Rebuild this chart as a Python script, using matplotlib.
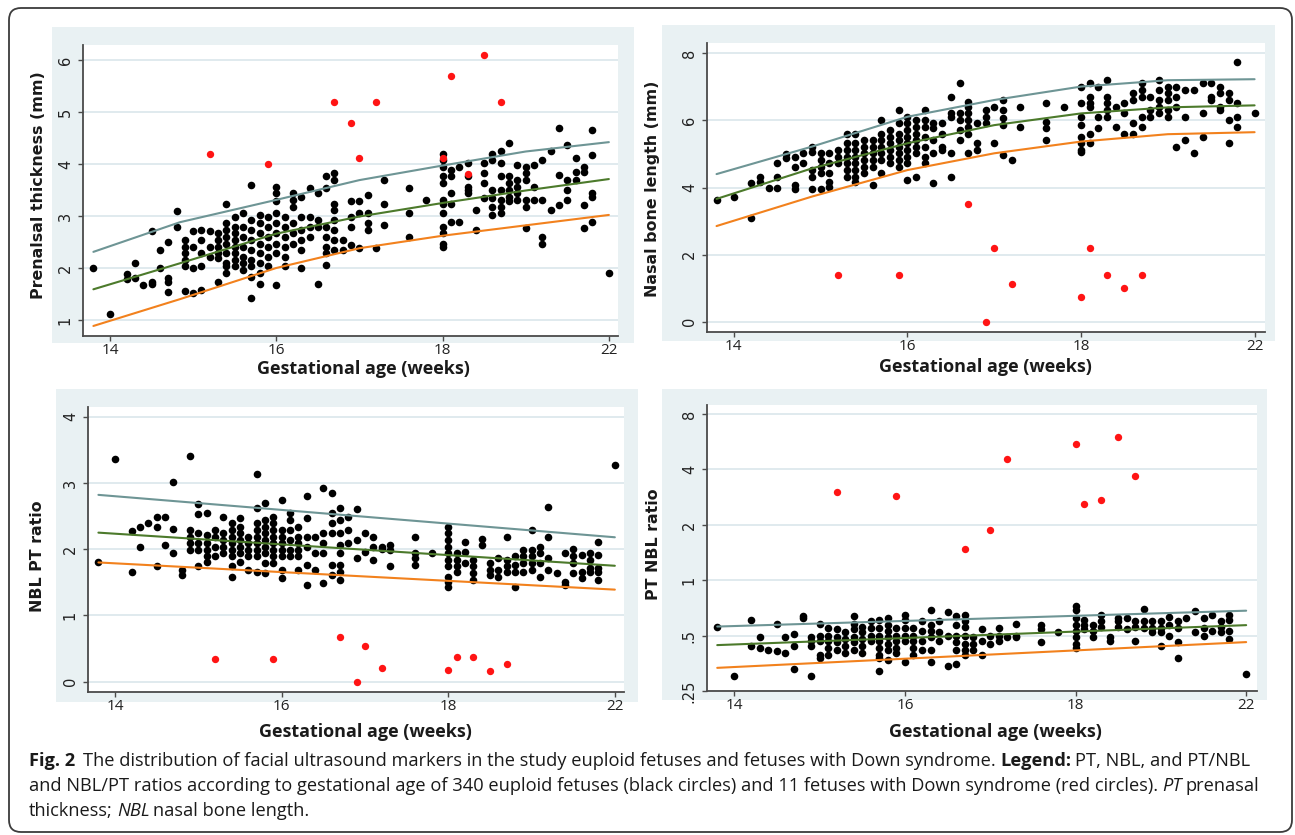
import matplotlib
matplotlib.use("Agg")
import matplotlib.pyplot as plt
from matplotlib import font_manager as fm
from matplotlib.patches import FancyBboxPatch, Rectangle
from matplotlib.transforms import IdentityTransform

# ---------------- DATA ----------------
GA_TICKS = [14, 16, 18, 20]
GA_TICK_LABELS = ["14", "16", "18", "22"]

# Panel 1: prenasal thickness (mm)
pt_ga = [13.8, 14.0, 14.2, 14.3, 14.4, 14.5, 14.6, 14.7, 14.8, 14.9, 15.0, 15.1, 15.2, 15.3,
         15.4, 15.5, 15.6, 15.7, 15.8, 15.9, 16.0, 16.1, 16.2, 16.3, 16.4, 16.5, 16.6, 16.7,
         16.8, 16.9, 17.0, 17.1, 17.2, 17.3, 17.6, 17.8, 18.0, 18.1, 18.2, 18.3, 18.4, 18.5,
         18.6, 18.7, 18.8, 18.9, 19.0, 19.1, 19.2, 19.3, 19.4, 19.5, 19.6, 19.7, 19.8, 20.0]
pt_vals = [[2.0], [1.11], [1.88, 1.78], [2.1, 1.8], [1.67], [2.71, 1.74, 1.70], [2.35, 2.0],
           [2.5, 1.8, 1.74, 1.53], [3.1, 2.78], [2.54, 2.41, 2.28, 2.15, 2.03, 1.55],
           [2.71, 2.41, 2.0, 1.51], [2.73, 2.54, 2.28, 2.03, 1.58], [2.71, 2.41, 2.22],
           [2.67, 2.54, 2.41, 2.28, 2.19, 1.74],
           [3.24, 2.86, 2.73, 2.6, 2.47, 2.28, 2.09, 2.03, 1.9],
           [2.99, 2.79, 2.67, 2.54, 2.41, 2.28, 2.15, 2.03],
           [3.05, 2.79, 2.6, 2.41, 2.22, 2.09, 1.96],
           [3.6, 2.92, 2.73, 2.54, 2.35, 2.15, 2.03, 1.83, 1.42],
           [3.02, 2.86, 2.67, 2.47, 2.28, 2.09, 1.9, 1.7],
           [2.99, 2.79, 2.6, 2.41, 2.22, 2.03],
           [3.56, 3.44, 3.28, 3.05, 2.86, 2.67, 2.47, 2.28, 1.67],
           [2.99, 2.79, 2.6, 2.41, 2.22, 2.03],
           [3.44, 3.31, 3.18, 2.86, 2.67, 2.47],
           [3.37, 2.99, 2.73, 2.54, 2.35, 2.0],
           [3.53, 2.99, 2.79, 2.6], [3.44, 2.92, 2.79, 1.7],
           [3.76, 3.53, 2.79, 2.6, 2.41, 2.28, 2.06],
           [3.82, 3.69, 3.24, 3.12, 2.92, 2.73, 2.54, 2.35],
           [2.54, 2.35], [3.28, 2.99, 2.79, 2.44], [3.28, 3.05, 2.38], [3.4, 3.05, 2.86, 2.73],
           [2.38], [3.69, 3.24, 2.83], [3.53, 3.05, 2.6], [3.31],
           [4.2, 4.08, 3.95, 3.76, 3.63, 3.31, 3.24, 3.05, 2.79, 2.67, 2.47, 2.41],
           [3.88, 3.76, 3.44, 3.24, 2.89], [3.95, 2.89], [4.01, 3.76, 3.56, 3.5, 3.44],
           [3.12, 2.73], [4.01, 3.82, 3.63, 3.34], [4.2, 4.08, 3.5, 3.34, 3.18, 3.02],
           [4.24, 4.01, 3.76, 3.5, 3.31, 3.18, 3.05], [4.4, 3.76, 3.63, 3.5, 3.37, 3.28],
           [3.98, 3.69, 3.56, 3.44, 3.31], [3.95, 3.82, 3.69, 3.31, 3.18, 2.76],
           [3.98, 3.56, 3.31], [4.08, 3.31, 2.6, 2.47], [4.24, 3.12], [4.69, 3.79, 3.21],
           [4.37, 3.69, 3.5, 3.31], [4.11, 3.85, 3.69], [3.95, 3.85, 3.21, 2.76],
           [4.65, 4.17, 3.44, 3.37, 2.89], [1.9]]

ds_ga = [15.2, 15.9, 16.7, 16.9, 17.0, 17.2, 18.0, 18.1, 18.3, 18.5, 18.7]
ds_pt = [4.2, 3.99, 5.19, 4.78, 4.11, 5.19, 4.11, 5.69, 3.81, 6.1, 5.19]

pt_line_ga = [13.8, 14.84, 16.0, 17.0, 18.0, 19.0, 20.0]
pt_upper = [2.31, 2.88, 3.31, 3.69, 3.97, 4.24, 4.42]
pt_mid = [1.59, 2.09, 2.66, 2.99, 3.25, 3.49, 3.71]
pt_lower = [0.885, 1.40, 2.0, 2.38, 2.62, 2.82, 3.02]

# Panel 2: nasal bone length (mm)
nbl_ga = [13.8, 14.0, 14.2, 14.3, 14.4, 14.5, 14.6, 14.7, 14.8, 14.9, 15.0, 15.1, 15.2, 15.3,
          15.4, 15.5, 15.6, 15.7, 15.8, 15.9, 16.0, 16.1, 16.2, 16.3, 16.4, 16.5, 16.6, 16.7,
          16.8, 16.9, 17.0, 17.1, 17.2, 17.3, 17.6, 17.8, 18.0, 18.1, 18.2, 18.3, 18.4, 18.5,
          18.6, 18.7, 18.8, 18.9, 19.0, 19.1, 19.2, 19.3, 19.4, 19.5, 19.6, 19.7, 19.8, 20.0]
nbl_vals = [[3.63], [3.71], [4.12, 3.08], [4.32, 4.17], [3.99], [4.72, 4.32, 3.99], [5.0, 4.87],
            [4.92, 4.62, 4.07, 3.97], [5.02, 4.72], [5.22, 5.07, 4.52, 4.32, 3.97],
            [5.02, 4.82, 4.62, 4.42, 3.97], [5.02, 4.72, 4.42, 4.17, 4.02], [5.12, 4.92, 4.72],
            [5.61, 5.32, 5.12, 4.92, 4.72, 4.52, 4.32],
            [5.61, 5.32, 5.12, 4.92, 4.72, 4.52, 4.32, 4.17],
            [5.42, 5.22, 5.02, 4.82, 4.62, 4.42], [5.42, 5.22, 5.02, 4.82, 4.62, 4.07],
            [6.01, 5.61, 5.42, 5.22, 5.02, 4.82, 4.42], [5.71, 5.51, 5.32, 5.12, 4.92, 4.72],
            [6.31, 5.91, 5.61, 5.42, 5.22, 5.02, 4.82, 4.62],
            [6.11, 5.91, 5.71, 5.51, 5.32, 5.12, 4.92, 4.72, 4.22],
            [6.01, 5.81, 5.61, 5.42, 5.22, 5.02, 4.32],
            [6.31, 6.01, 5.81, 5.51, 5.22, 4.92, 4.72], [5.91, 5.76, 5.42, 5.02, 4.12],
            [5.91, 5.61, 5.22, 5.12], [6.71, 6.21, 6.11, 5.02, 4.32],
            [7.11, 6.21, 6.01, 5.71, 5.42], [6.56, 6.41, 6.21, 6.01, 5.81, 5.61, 5.02],
            [5.91, 5.32, 5.12], [6.31, 6.11, 5.91], [6.41, 5.32], [6.61, 6.31, 6.06, 5.86, 4.97],
            [4.82], [6.41, 5.81], [6.51, 5.96, 5.76, 5.42], [6.41],
            [7.01, 6.51, 6.11, 5.86, 5.51, 5.32, 5.12, 5.07],
            [7.11, 6.71, 6.51, 6.41, 5.61, 5.32], [7.01, 6.11, 5.76],
            [7.21, 6.71, 6.51, 6.31, 6.11], [6.41, 5.81], [6.51, 6.21, 5.61],
            [6.81, 6.61, 5.91, 5.61], [7.11, 6.91, 6.71, 6.11, 5.81], [6.71, 6.31, 6.11],
            [7.21, 6.91, 6.61, 6.41, 6.21], [7.01, 6.81, 6.61, 6.31, 6.11],
            [7.01, 6.71, 6.41, 5.22], [6.91, 6.11, 5.42], [6.91, 5.02], [7.11, 6.21, 5.51],
            [7.11, 6.71, 6.61], [7.01, 6.81, 6.41, 6.31], [6.81, 6.61, 6.01, 5.32],
            [7.73, 6.51, 6.11, 5.81], [6.21]]

ds_nbl = [1.39, 1.39, 3.51, 0.0, 2.2, 1.12, 0.72, 2.2, 1.39, 1.01, 1.39]

nbl_line_ga = [13.8, 14.9, 16.0, 17.0, 18.0, 19.0, 20.0]
nbl_upper = [4.4, 5.22, 6.11, 6.61, 7.01, 7.2, 7.23]
nbl_mid = [3.66, 4.57, 5.32, 5.86, 6.21, 6.39, 6.45]
nbl_lower = [2.85, 3.73, 4.52, 5.02, 5.37, 5.59, 5.65]

# Panel 3: NBL/PT ratio
nblpt_ga = [13.8, 14.0, 14.2, 14.3, 14.4, 14.5, 14.6, 14.7, 14.8, 14.9, 15.0, 15.1, 15.2, 15.3,
            15.4, 15.5, 15.6, 15.7, 15.8, 15.9, 16.0, 16.1, 16.2, 16.3, 16.4, 16.5, 16.6, 16.7,
            16.8, 16.9, 17.0, 17.1, 17.2, 17.3, 17.6, 17.8, 18.0, 18.1, 18.2, 18.3, 18.4, 18.5,
            18.6, 18.7, 18.8, 18.9, 19.0, 19.1, 19.2, 19.3, 19.4, 19.5, 19.6, 19.7, 19.8, 20.0]
nblpt_vals = [[1.81], [3.36], [2.28, 1.65], [2.34, 2.04], [2.4], [2.49, 2.34, 1.74], [2.49, 2.06],
              [3.01, 2.31, 1.95], [1.69, 1.61], [3.4, 2.29, 2.19, 2.09, 1.99],
              [2.68, 2.53, 2.24, 2.09, 1.99, 1.74], [2.54, 2.21, 2.09, 1.99, 1.89, 1.81],
              [2.29, 2.19, 2.04, 1.89], [2.49, 2.24, 2.14, 2.04, 1.94],
              [2.39, 2.29, 2.19, 2.09, 1.99, 1.89, 1.74, 1.58],
              [2.47, 2.34, 2.24, 2.14, 2.04, 1.94, 1.81], [2.19, 2.09, 1.99, 1.89, 1.69],
              [3.14, 2.62, 2.39, 2.29, 2.19, 2.09, 1.99, 1.89, 1.66],
              [2.7, 2.44, 2.34, 2.24, 2.14, 2.04, 1.94, 1.79, 1.64],
              [2.49, 2.39, 2.29, 2.19, 2.09, 1.99, 1.89, 1.79],
              [2.75, 2.29, 2.19, 2.09, 1.99, 1.89, 1.69, 1.56],
              [2.54, 2.44, 2.29, 2.14, 1.99, 1.89], [2.34, 2.19, 2.09, 1.99, 1.89, 1.69],
              [2.8, 2.47, 2.19, 2.04, 1.76, 1.46], [2.19, 1.94, 1.69],
              [2.93, 2.24, 2.09, 1.94, 1.49], [2.85, 2.54, 2.39, 2.24, 1.76, 1.61],
              [2.62, 2.44, 2.24, 2.06, 1.94, 1.76, 1.66, 1.53], [2.49, 2.29, 2.09],
              [2.6, 2.14, 1.86], [2.24, 1.96], [2.19, 2.04, 1.84], [2.04, 2.0], [2.06, 1.99, 1.74],
              [2.19, 1.94, 1.86, 1.76], [1.94],
              [2.34, 2.24, 2.14, 2.04, 1.94, 1.84, 1.74, 1.58, 1.51, 1.43],
              [1.94, 1.84, 1.74, 1.66], [2.11, 1.96, 1.79], [1.84, 1.74, 1.64, 1.53], [2.16, 2.06],
              [1.79, 1.69, 1.61], [1.86, 1.69, 1.58], [2.19, 1.84, 1.74, 1.66],
              [1.89, 1.76, 1.66, 1.43], [1.99, 1.89, 1.79, 1.66], [2.29, 1.99, 1.89, 1.79, 1.69],
              [2.04, 1.94, 1.79, 1.58], [2.64, 2.19, 1.86, 1.69], [1.64], [1.94, 1.51, 1.46],
              [2.0, 1.89, 1.79, 1.64], [1.91, 1.66, 1.56], [1.94, 1.84, 1.71, 1.66],
              [2.11, 1.91, 1.71, 1.66, 1.53], [3.27]]

ds_nblpt = [0.34, 0.35, 0.68, 0.0, 0.54, 0.21, 0.18, 0.38, 0.38, 0.16, 0.27]

nblpt_line_ga = [13.8, 20.0]
nblpt_upper = [2.82, 2.18]
nblpt_mid = [2.25, 1.75]
nblpt_lower = [1.80, 1.39]

# Panel 4: PT/NBL ratio (log scale)
ptnbl_ga = nblpt_ga
ptnbl_vals = [[0.56], [0.30], [0.61, 0.44], [0.49, 0.43], [0.42], [0.58, 0.41], [0.49, 0.40],
              [0.51, 0.44, 0.33], [0.64, 0.62], [0.49, 0.47, 0.44, 0.30],
              [0.58, 0.50, 0.47, 0.39, 0.38], [0.55, 0.50, 0.47, 0.43, 0.39],
              [0.54, 0.49, 0.46, 0.42], [0.52, 0.48, 0.44, 0.40],
              [0.64, 0.58, 0.54, 0.49, 0.46, 0.42], [0.56, 0.52, 0.48, 0.44, 0.40],
              [0.60, 0.55, 0.50, 0.47], [0.61, 0.55, 0.50, 0.47, 0.43, 0.39, 0.38, 0.32],
              [0.62, 0.57, 0.53, 0.49, 0.45, 0.42, 0.37], [0.55, 0.50, 0.47, 0.43, 0.40],
              [0.65, 0.61, 0.55, 0.50, 0.47, 0.36], [0.55, 0.50, 0.47, 0.43, 0.39],
              [0.60, 0.53, 0.47, 0.42], [0.69, 0.57, 0.53, 0.49, 0.42, 0.36], [0.60, 0.52, 0.47],
              [0.67, 0.50, 0.34], [0.64, 0.57, 0.50, 0.46, 0.42, 0.35],
              [0.65, 0.60, 0.56, 0.50, 0.45, 0.42, 0.39], [0.49, 0.45, 0.42], [0.54, 0.47, 0.39],
              [0.50, 0.45], [0.55, 0.50, 0.47], [0.49], [0.58, 0.50, 0.49], [0.57, 0.54, 0.46],
              [0.52], [0.72, 0.69, 0.62, 0.57, 0.53, 0.49, 0.45, 0.43], [0.61, 0.57, 0.54],
              [0.57, 0.53, 0.49], [0.65, 0.60, 0.56], [0.49, 0.47], [0.62, 0.60, 0.56],
              [0.62, 0.54], [0.60, 0.56, 0.47], [0.70, 0.60, 0.55], [0.60, 0.55, 0.52],
              [0.60, 0.55, 0.52, 0.44], [0.63, 0.57, 0.50], [0.60, 0.55, 0.46, 0.38], [0.62],
              [0.68, 0.52], [0.62, 0.55, 0.50], [0.65, 0.53], [0.60, 0.56, 0.52],
              [0.65, 0.61, 0.53, 0.48], [0.31]]

ds_ptnbl_ga = [15.2, 15.9, 16.7, 17.0, 17.2, 18.0, 18.1, 18.3, 18.5, 18.7]
ds_ptnbl = [3.01, 2.87, 1.48, 1.87, 4.58, 5.51, 2.59, 2.72, 6.04, 3.7]

ptnbl_line_ga = [13.8, 20.0]
ptnbl_upper = [0.56, 0.683]
ptnbl_mid = [0.444, 0.57]
ptnbl_lower = [0.334, 0.461]

XLABEL = "Gestational age (weeks)"
YLABELS = ["Prenalsal thickness (mm)", "Nasal bone length (mm)", "NBL PT ratio", "PT NBL ratio"]

# ---------------- STYLE ----------------
W, H = 1295, 835
BG = "#e9f1f3"
GRID = "#e0eaee"
C_UP = "#6e9595"
C_MID = "#4c7a2b"
C_LOW = "#f2811d"
C_RED = "#ff1414"
SPINE = "#4a4a4a"

avail = {f.name for f in fm.fontManager.ttflist}
def pick(*names):
    for n in names:
        if n in avail:
            return n
    return "DejaVu Sans"
SANS = pick("Open Sans", "Lato", "Liberation Sans")
VERD = "DejaVu Sans"

fig = plt.figure(figsize=(W / 100, H / 100), dpi=100)
fig.patch.set_facecolor("white")
renderer = fig.canvas.get_renderer()

def py(y):
    return H - y

def text_w(s, **kw):
    t = fig.text(0, 0, s, **kw)
    w = t.get_window_extent(renderer).width
    t.remove()
    return w

def fit_size(s, target, **kw):
    w = text_w(s, fontsize=20, **kw)
    return 20 * target / w

# outer rounded frame
frame = FancyBboxPatch((9, py(832)), 1283, 824, boxstyle="round,pad=0,rounding_size=12",
                       transform=IdentityTransform(), fill=False, ec="#3c3c3c", lw=1.3)
fig.add_artist(frame)

xlab_size = fit_size(XLABEL, 214, family=SANS, weight="bold")
ylab_size = fit_size(YLABELS[0], 228, family=VERD, weight="bold")

def flat(ga, cols):
    xs, ys = [], []
    for g, c in zip(ga, cols):
        xs += [g] * len(c)
        ys += c
    return xs, ys

def panel(bg, box, xlim, ylim, yticks, yticklabels, ga, cols, rga, rvals,
          lga, lines, xlab_c, ylab_c, ylabel, log=False):
    l, t, r, b = bg
    fig.add_artist(Rectangle((l, py(b)), r - l, b - t, transform=IdentityTransform(),
                             fc=BG, ec="none", zorder=-5))
    L, T, R, B = box
    ax = fig.add_axes([L / W, py(B) / H, (R - L) / W, (B - T) / H])
    ax.set_facecolor("white")
    if log:
        ax.set_yscale("log")
    ax.set_xlim(*xlim)
    ax.set_ylim(*ylim)
    for s in ("top", "right"):
        ax.spines[s].set_visible(False)
    for s in ("left", "bottom"):
        ax.spines[s].set_color(SPINE)
        ax.spines[s].set_linewidth(1.3)
    ax.set_axisbelow(True)
    ax.yaxis.grid(True, color=GRID, lw=1.4)
    ax.set_xticks(GA_TICKS, GA_TICK_LABELS)
    ax.set_yticks(yticks, yticklabels)
    ax.minorticks_off()
    ax.tick_params(axis="both", direction="out", length=3.8, width=1.0, color=SPINE)
    ax.tick_params(axis="x", labelsize=11, pad=1.5, labelcolor="#222222")
    ax.tick_params(axis="y", labelsize=10.5, pad=3.5, labelcolor="#222222")
    for lab in ax.get_xticklabels():
        lab.set_fontfamily(SANS)
    for lab in ax.get_yticklabels():
        lab.set_fontfamily(VERD)
        lab.set_rotation(90)
        lab.set_va("center")
    xs, ys = flat(ga, cols)
    ax.scatter(xs, ys, s=30, c="black", linewidths=0, zorder=3, clip_on=False)
    for vals, col in zip(lines, (C_UP, C_MID, C_LOW)):
        ax.plot(lga, vals, color=col, lw=1.5, zorder=4, solid_capstyle="round")
    ax.scatter(rga, rvals, s=28, c=C_RED, linewidths=0, zorder=5, clip_on=False)
    fig.text(xlab_c[0] / W, py(xlab_c[1]) / H, XLABEL, ha="center", va="baseline",
             fontsize=xlab_size, family=SANS, weight="bold", color="#1a1a1a")
    fig.text(ylab_c[0] / W, py(ylab_c[1]) / H, ylabel, ha="center", va="center",
             rotation=90, fontsize=ylab_size, family=VERD, weight="bold", color="#1a1a1a")
    return ax

panel((52, 27, 634, 343), (83, 45, 618, 336), (13.675, 20.11), (0.692, 6.288),
      [1, 2, 3, 4, 5, 6], ["1", "2", "3", "4", "5", "6"],
      pt_ga, pt_vals, ds_ga, ds_pt, pt_line_ga, (pt_upper, pt_mid, pt_lower),
      (363, 374), (39, 185), YLABELS[0])

panel((662, 25, 1275, 341), (707, 43, 1265, 332), (13.69, 20.12), (-0.31, 8.31),
      [0, 2, 4, 6, 8], ["0", "2", "4", "6", "8"],
      nbl_ga, nbl_vals, ds_ga, ds_nbl, nbl_line_ga, (nbl_upper, nbl_mid, nbl_lower),
      (985, 372), (653, 189), YLABELS[1])

panel((56, 389, 638, 702), (88, 407, 624, 692), (13.675, 20.11), (-0.155, 4.146),
      [0, 1, 2, 3, 4], ["0", "1", "2", "3", "4"],
      nblpt_ga, nblpt_vals, ds_ga, ds_nblpt, nblpt_line_ga,
      (nblpt_upper, nblpt_mid, nblpt_lower),
      (365, 737), (38, 556), YLABELS[2])

panel((662, 389, 1267, 700), (707, 405, 1257, 691), (13.68, 20.127), (0.25, 8.96),
      [0.25, 0.5, 1, 2, 4, 8], [".25", ".5", "1", "2", "4", "8"],
      ptnbl_ga, ptnbl_vals, ds_ptnbl_ga, ds_ptnbl, ptnbl_line_ga,
      (ptnbl_upper, ptnbl_mid, ptnbl_lower),
      (995, 737), (653, 544), YLABELS[3], log=True)

# ---------------- CAPTION ----------------
cap_lines = [
    [("Fig. 2", "bold", "normal"),
     ("  The distribution of facial ultrasound markers in the study euploid fetuses and fetuses with Down syndrome. ", "normal", "normal"),
     ("Legend:", "bold", "normal"), (" PT, NBL, and PT/NBL", "normal", "normal")],
    [("and NBL/PT ratios according to gestational age of 340 euploid fetuses (black circles) and 11 fetuses with Down syndrome (red circles). ", "normal", "normal"),
     ("PT", "normal", "italic"), (" prenasal", "normal", "normal")],
    [("thickness; ", "normal", "normal"), ("NBL", "normal", "italic"),
     (" nasal bone length.", "normal", "normal")],
]
cap_base = [766, 791, 816]

def seg_width(txt, size, weight, style):
    sw = 0.85 * (text_w("a a", fontsize=size, family=SANS) - text_w("aa", fontsize=size, family=SANS))
    core = txt.strip(" ")
    lead = len(txt) - len(txt.lstrip(" "))
    trail = len(txt) - len(txt.rstrip(" "))
    cw = text_w(core, fontsize=size, family=SANS, weight=weight, style=style) if core else 0
    return lead * sw, cw, trail * sw, core

def line_width(line, size):
    tot = 0
    for txt, wgt, sty in line:
        a, c, d, _ = seg_width(txt, size, wgt, sty)
        tot += a + c + d
    return tot

cap_size = 20 * 1219 / line_width(cap_lines[0], 20)
for line, yb in zip(cap_lines, cap_base):
    x = 29
    for txt, wgt, sty in line:
        a, c, d, core = seg_width(txt, cap_size, wgt, sty)
        x += a
        if core:
            fig.text(x / W, py(yb) / H, core, fontsize=cap_size, family=SANS, weight=wgt,
                     style=sty, ha="left", va="baseline", color="#1a1a1a")
        x += c + d

fig.savefig("out.png", dpi=100, facecolor="white")
